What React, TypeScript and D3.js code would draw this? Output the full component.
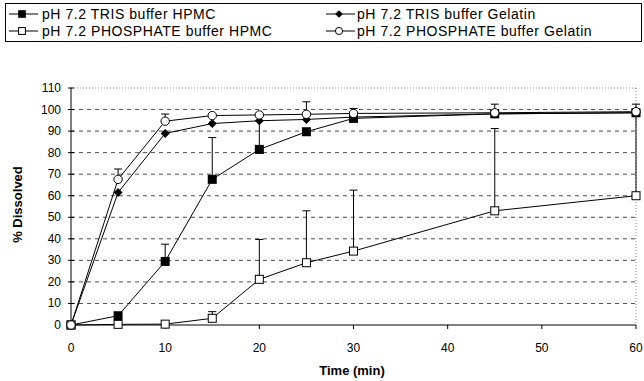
import React from "react";
import * as d3 from "d3";

const times = [0, 5, 10, 15, 20, 25, 30, 45, 60];
const trisHpmc = [0, 4.3, 29.5, 67.6, 81.5, 89.7, 95.9, 98, 98.5];
const trisHpmcErr = [0, 0, 37.5, 87, 97, 0, 97, 99, 100];
const trisGel = [0, 61.5, 88.9, 93.5, 94.8, 95.4, 96.5, 98, 98.5];
const trisGelErr = [0, 0, 0, 0, 0, 0, 0, 0, 0];
const phosHpmc = [0, 0.3, 0.4, 3.1, 21.2, 28.9, 34.3, 53, 60];
const phosHpmcErr = [0, 0, 0, 6.2, 39.7, 53, 62.6, 91.2, 99];
const phosGel = [0, 67.6, 94.6, 97.2, 97.5, 97.8, 98.2, 98.5, 99];
const phosGelErr = [0, 72.4, 97.9, 0, 0, 103.6, 100.5, 102.5, 102.5];

const xTicks = [0, 10, 20, 30, 40, 50, 60];
const yTicks = [0, 10, 20, 30, 40, 50, 60, 70, 80, 90, 100, 110];

const legendLabels = [
  "pH 7.2 TRIS buffer HPMC",
  "pH 7.2 TRIS buffer Gelatin",
  "pH 7.2 PHOSPHATE buffer HPMC",
  "pH 7.2 PHOSPHATE buffer Gelatin",
];

type Marker = "fsquare" | "diamond" | "osquare" | "ocircle";

const seriesList: { vals: number[]; err: number[]; marker: Marker }[] = [
  { vals: trisHpmc, err: trisHpmcErr, marker: "fsquare" },
  { vals: trisGel, err: trisGelErr, marker: "diamond" },
  { vals: phosHpmc, err: phosHpmcErr, marker: "osquare" },
  { vals: phosGel, err: phosGelErr, marker: "ocircle" },
];

function MarkerShape({ type, x, y, s = 1 }: { type: Marker; x: number; y: number; s?: number }) {
  if (type === "fsquare")
    return <rect x={x - 4.5 * s} y={y - 4.5 * s} width={9 * s} height={9 * s} fill="#000" />;
  if (type === "osquare")
    return <rect x={x - 4 * s} y={y - 4 * s} width={8 * s} height={8 * s} fill="#fff" stroke="#000" strokeWidth={1} />;
  if (type === "diamond")
    return <path d={`M${x},${y - 4.5 * s}L${x + 4.5 * s},${y}L${x},${y + 4.5 * s}L${x - 4.5 * s},${y}Z`} fill="#000" />;
  return <circle cx={x} cy={y} r={4.2 * s} fill="#fff" stroke="#000" strokeWidth={1} />;
}

export default function App() {
  const W = 644, H = 381;
  const L = 71, R = 636, T = 88, B = 325;
  const x = d3.scaleLinear().domain([0, 60]).range([L, R]);
  const y = d3.scaleLinear().domain([0, 110]).range([B, T]);
  const line = d3.line<number>().x((_, i) => x(times[i])).y((d) => y(d));
  const font = "'Liberation Sans', Arial, sans-serif";

  const legendPos = [
    { sx: 9, tx: 42, ty: 19 },
    { sx: 326, tx: 357, ty: 19 },
    { sx: 9, tx: 42, ty: 36 },
    { sx: 326, tx: 357, ty: 36 },
  ];

  return (
    <svg width={W} height={H} style={{ position: "absolute", left: 0, top: 0, fontFamily: font }}>
      <rect width={W} height={H} fill="#fff" />
      {/* legend box */}
      <rect x={5.5} y={3.5} width={636} height={38} fill="none" stroke="#000" strokeWidth={1} />
      {legendLabels.map((lab, i) => {
        const p = legendPos[i];
        const cy = p.ty - 5;
        return (
          <g key={lab}>
            <line x1={p.sx} x2={p.sx + 29} y1={cy} y2={cy} stroke="#000" strokeWidth={1} />
            <MarkerShape type={seriesList[i].marker} x={p.sx + 13} y={cy} s={0.85} />
            <text x={p.tx} y={p.ty} fontSize={14} letterSpacing={0.55} fill="#000">{lab}</text>
          </g>
        );
      })}
      {/* grid */}
      {yTicks.filter((t) => t > 0 && t < 110).map((t) => (
        <line key={t} x1={L} x2={R} y1={y(t)} y2={y(t)} stroke="#222" strokeWidth={0.8} strokeDasharray="4,4" />
      ))}
      <line x1={L} x2={R} y1={y(110)} y2={y(110)} stroke="#666" strokeWidth={0.8} strokeDasharray="1,2" />
      <line x1={R} x2={R} y1={T} y2={B} stroke="#666" strokeWidth={0.8} strokeDasharray="1,2" />
      {/* axes */}
      <line x1={L} x2={L} y1={T} y2={B} stroke="#000" strokeWidth={1} />
      <line x1={L} x2={R} y1={B} y2={B} stroke="#000" strokeWidth={1} />
      {yTicks.map((t) => (
        <g key={t}>
          <line x1={L - 3} x2={L + 3} y1={y(t)} y2={y(t)} stroke="#000" />
          <text x={L - 10} y={y(t) + 4} fontSize={12} textAnchor="end">{t}</text>
        </g>
      ))}
      {xTicks.map((t) => (
        <g key={t}>
          <line x1={x(t)} x2={x(t)} y1={B} y2={B + 4} stroke="#000" />
          <text x={x(t)} y={B + 27} fontSize={12} textAnchor="middle">{t}</text>
        </g>
      ))}
      <text transform={`translate(22,${(T + B) / 2 - 2}) rotate(-90)`} fontSize={13} fontWeight="bold" textAnchor="middle">% Dissolved</text>
      <text x={352} y={375} fontSize={13} fontWeight="bold" textAnchor="middle">Time (min)</text>
      {/* error bars */}
      {seriesList.map((s, si) => (
        <g key={"e" + si}>
          {s.err.map((e, i) =>
            e > s.vals[i] ? (
              <g key={i}>
                <line x1={x(times[i])} x2={x(times[i])} y1={y(s.vals[i])} y2={y(e)} stroke="#000" strokeWidth={1} />
                <line x1={x(times[i]) - 4} x2={x(times[i]) + 4} y1={y(e)} y2={y(e)} stroke="#000" strokeWidth={1} />
              </g>
            ) : null
          )}
        </g>
      ))}
      {/* lines */}
      {seriesList.map((s, si) => (
        <path key={"l" + si} d={line(s.vals) || ""} fill="none" stroke="#000" strokeWidth={1} />
      ))}
      {seriesList.map((s, si) => (
        <g key={"m" + si}>
          {s.vals.map((v, i) => (
            <MarkerShape key={i} type={s.marker} x={x(times[i])} y={y(v)} />
          ))}
        </g>
      ))}
    </svg>
  );
}
